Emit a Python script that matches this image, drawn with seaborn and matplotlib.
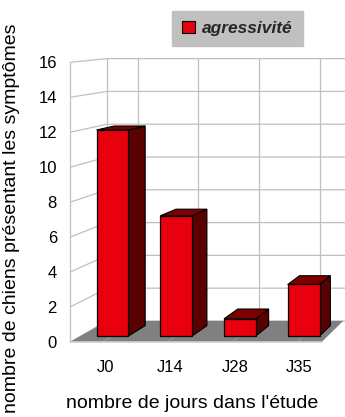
import matplotlib
matplotlib.use("Agg")
import matplotlib.pyplot as plt
import seaborn as sns
import pandas as pd
from matplotlib.patches import Polygon, Patch

# data
days = ["J0", "J14", "J28", "J35"]
dogs = [12, 7, 1, 3]
series_name = "agressivité"
y_ticks = [0, 2, 4, 6, 8, 10, 12, 14, 16]
x_title = "nombre de jours dans l'étude"
y_title = "nombre de chiens présentant les symptômes"

sns.set_style("white")
plt.rcParams["font.family"] = ["Liberation Sans", "DejaVu Sans"]

W, H, DPI = 345, 417, 100
fig = plt.figure(figsize=(W / DPI, H / DPI), dpi=DPI)

# pixel layout of the plane holding the bar front faces
CAT0_PX, CAT_STEP = 112.5, 63.7
BASE_PX, UNIT_PX = 336.0, 17.17
L, R, T, B = 62, 345, 0, 350
ax = fig.add_axes([L / W, (H - B) / H, (R - L) / W, (B - T) / H])

# simple one-point perspective (vanishing point in data units)
VX = (669 - CAT0_PX) / CAT_STEP
VY = (BASE_PX - 2) / UNIT_PX
T_FRONT, T_BACK, T_BAR, T_LABEL = -0.018, 0.045, 0.031, -0.012


def proj(x, y, t):
    return x + (VX - x) * t, y + (VY - y) * t


RED = "#e8000f"
SIDE = "#5a0000"
TOP = "#7c0000"
GRID = "#c0c0c0"
FLOOR = "#808080"

x_lo, x_hi = -0.5, len(days) - 0.5
y_top = y_ticks[-1]

# walls: gridlines on the left wall and the back wall
for v in y_ticks:
    p0 = proj(x_lo, v, T_FRONT)
    p1 = proj(x_lo, v, T_BACK)
    p2 = proj(x_hi, v, T_BACK)
    ax.plot([p0[0], p1[0], p2[0]], [p0[1], p1[1], p2[1]],
            color=GRID, lw=0.9, zorder=1, solid_capstyle="butt")
for xv in [x_lo] + list(range(len(days))):
    a = proj(xv, 0, T_BACK)
    b = proj(xv, y_top, T_BACK)
    ax.plot([a[0], b[0]], [a[1], b[1]], color=GRID, lw=0.9, zorder=1)
a = proj(x_lo, 0, T_FRONT)
b = proj(x_lo, y_top, T_FRONT)
ax.plot([a[0], b[0]], [a[1], b[1]], color=GRID, lw=0.9, zorder=1)

# floor
floor = [proj(x_lo, 0, T_FRONT), proj(x_lo, 0, T_BACK),
         proj(x_hi - 0.12, 0, T_BACK), proj(x_hi - 0.12, 0, T_FRONT)]
ax.add_patch(Polygon(floor, closed=True, facecolor=FLOOR, edgecolor="none", zorder=2))
fa, fb = floor[0], floor[3]
ax.plot([fa[0], fb[0]], [fa[1], fb[1]], color="#d0d0d0", lw=1.2, zorder=2.2)
for i in range(len(days)):
    a = proj(i, 0, T_FRONT)
    b = proj(i, 0, T_BACK)
    ax.plot([a[0], b[0]], [a[1], b[1]], color="#9a9a9a", lw=0.7, zorder=2.1)

# bar front faces
df = pd.DataFrame({"jour": days, "chiens": dogs})
sns.barplot(data=df, x="jour", y="chiens", color=RED, saturation=1, width=0.5,
            edgecolor="black", linewidth=0.9, ax=ax, zorder=5)

# side and top faces of each bar
for bar in list(ax.containers[0]):
    x0 = bar.get_x()
    x1 = x0 + bar.get_width()
    h = bar.get_height()
    side = [(x1, 0), (x1, h), proj(x1, h, T_BAR), proj(x1, 0, T_BAR)]
    top = [(x0, h), (x1, h), proj(x1, h, T_BAR), proj(x0, h, T_BAR)]
    ax.add_patch(Polygon(side, closed=True, facecolor=SIDE, edgecolor="black",
                         lw=0.8, zorder=4))
    ax.add_patch(Polygon(top, closed=True, facecolor=TOP, edgecolor="black",
                         lw=0.8, zorder=4))

ax.set_xlim((L - CAT0_PX) / CAT_STEP, (R - CAT0_PX) / CAT_STEP)
ax.set_ylim((BASE_PX - B) / UNIT_PX, (BASE_PX - T) / UNIT_PX)
for s in ax.spines.values():
    s.set_visible(False)

ax.set_yticks([proj(x_lo, v, T_FRONT)[1] for v in y_ticks],
              labels=[str(v) for v in y_ticks])
ax.set_xticks([proj(i, 0, T_LABEL)[0] for i in range(len(days))], labels=days)
ax.tick_params(axis="y", length=0, pad=3.6, labelsize=12, colors="black")
ax.tick_params(axis="x", length=0, pad=7, labelsize=12, colors="black")

ax.set_xlabel(x_title, fontsize=14, color="black", va="center")
ax.xaxis.set_label_coords((192 - L) / (R - L), (B - 403) / (B - T))
ax.set_ylabel(y_title, fontsize=14, color="black", va="center", ha="center")
ax.yaxis.set_label_coords((12 - L) / (R - L), (B - 218) / (B - T))

fig.legend(handles=[Patch(facecolor=RED, edgecolor="black", linewidth=0.8,
                          label=series_name)],
           loc="upper left", bbox_to_anchor=(172 / W, 1 - 11 / H),
           bbox_transform=fig.transFigure, frameon=True, fancybox=False,
           facecolor="#c0c0c0", edgecolor="#c0c0c0", framealpha=1,
           prop={"weight": "bold", "style": "italic", "size": 12.5},
           handlelength=0.75, handleheight=0.75, handletextpad=0.45,
           borderpad=0.55, borderaxespad=0)

fig.savefig("out.png", dpi=DPI)
